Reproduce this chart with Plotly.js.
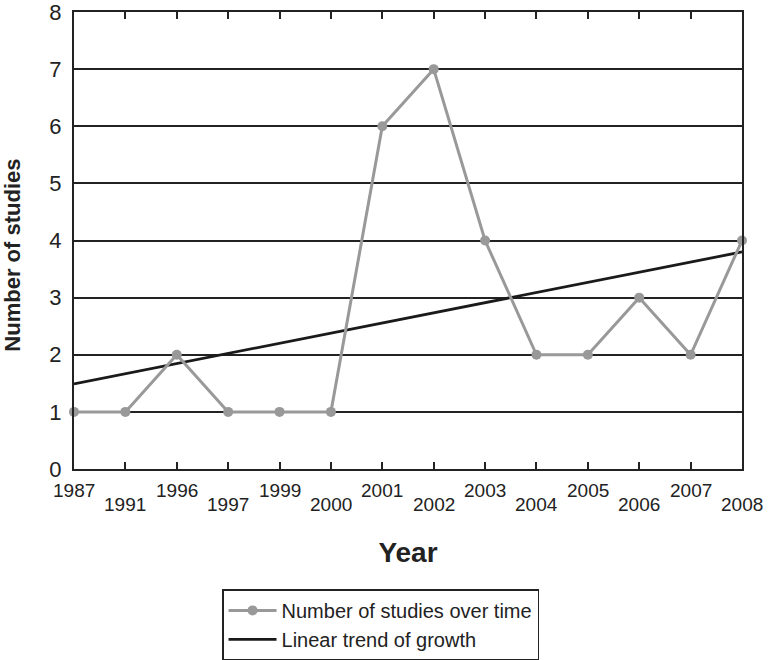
<!DOCTYPE html>
<html>
<head>
<meta charset="utf-8">
<script src="https://cdn.plot.ly/plotly-3.0.1.min.js"></script>
<style>
  html, body { margin: 0; padding: 0; background: #fff; }
  #chart { width: 771px; height: 660px; }
</style>
</head>
<body>
<div id="chart"></div>
<script>
const years = ['1987', '1991', '1996', '1997', '1999', '2000', '2001', '2002', '2003', '2004', '2005', '2006', '2007', '2008'];
const studies = [1, 1, 2, 1, 1, 1, 6, 7, 4, 2, 2, 3, 2, 4];
const trendYears = ['1987', '2008'];
const trendValues = [1.49, 3.80];

const FONT = 'Liberation Sans, Arial, Helvetica, sans-serif';

// staggered year labels: even index on upper row, odd on lower row
const yearLabels = years.map((yr, i) => ({
  x: i, xref: 'x',
  y: i % 2 === 0 ? -0.048 : -0.078, yref: 'paper',
  yanchor: 'middle', xanchor: 'center',
  text: yr, showarrow: false,
  font: { family: FONT, size: 19, color: '#222' },
}));

const yTitle = {
  text: '<b>Number of studies</b>', textangle: -90,
  x: -0.092, xref: 'paper', y: 0.468, yref: 'paper',
  xanchor: 'center', yanchor: 'middle', showarrow: false,
  font: { family: FONT, size: 22, color: '#222' },
};

Plotly.newPlot('chart', [
  {
    x: trendYears, y: trendValues,
    type: 'scatter', mode: 'lines',
    line: { color: '#1a1a1a', width: 2.8 },
    name: 'Linear trend of growth',
    legendrank: 2,
    cliponaxis: false,
  },
  {
    x: years, y: studies,
    type: 'scatter', mode: 'lines+markers',
    line: { color: '#999999', width: 3 },
    marker: { color: '#999999', size: 10 },
    name: 'Number of studies over time',
    legendrank: 1,
    cliponaxis: false,
  },
], {
  width: 771, height: 660,
  margin: { l: 74, r: 29, t: 12, b: 191, autoexpand: false },
  paper_bgcolor: '#fff', plot_bgcolor: '#fff',
  font: { family: FONT, color: '#222' },
  showlegend: true,
  legend: {
    xref: 'container', yref: 'container',
    x: 0.288, y: 0.107, xanchor: 'left', yanchor: 'top',
    bordercolor: '#222', borderwidth: 1.5,
    font: { family: FONT, size: 20, color: '#222' },
    itemwidth: 48, tracegroupgap: 0,
  },
  xaxis: {
    type: 'category', categoryorder: 'array', categoryarray: years,
    range: [0, 13],
    showgrid: false, zeroline: false,
    showline: true, linecolor: '#222', linewidth: 2, mirror: 'ticks',
    ticks: 'inside', ticklen: 7, tickwidth: 2, tickcolor: '#222',
    showticklabels: false,
    title: { text: 'Year', font: { family: FONT, size: 28, color: '#222', weight: 'bold' }, standoff: 72 },
  },
  yaxis: {
    range: [0, 8], dtick: 1,
    showgrid: true, gridcolor: '#222', gridwidth: 1.5,
    zeroline: false,
    showline: true, linecolor: '#222', linewidth: 2, mirror: true,
    ticks: '', ticklabelstandoff: 6, ticklabeloverflow: 'allow',
    tickfont: { family: FONT, size: 22, color: '#222' },
  },
  annotations: [...yearLabels, yTitle],
}, { displayModeBar: false });
</script>
</body>
</html>
